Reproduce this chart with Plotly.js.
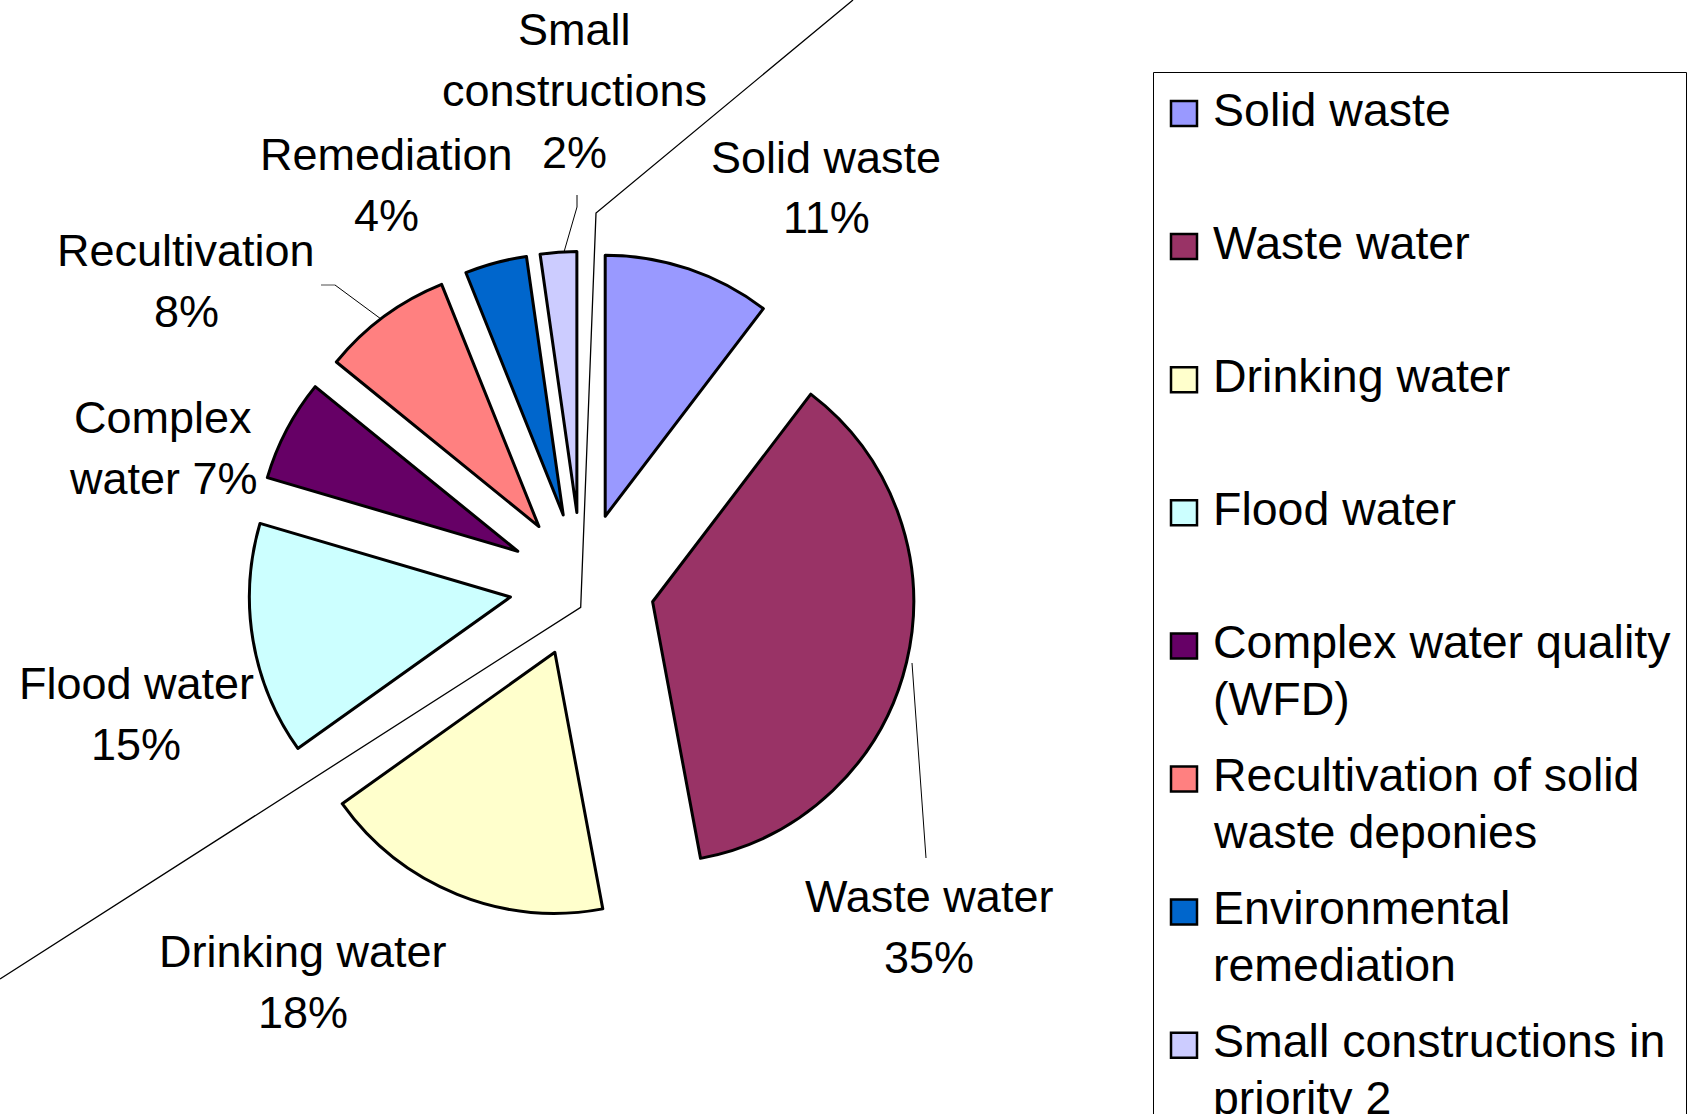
<!DOCTYPE html>
<html>
<head>
<meta charset="utf-8">
<script src="https://cdn.plot.ly/plotly-3.0.1.min.js"></script>
<style>
  html, body { margin: 0; padding: 0; background: #ffffff; }
  #chart { width: 1690px; height: 1114px; }
</style>
</head>
<body>
<div id="chart"></div>
<script>
// ---------------- data ----------------
const categories = [
  "Solid waste",
  "Waste water",
  "Drinking water",
  "Flood water",
  "Complex water quality<br>(WFD)",
  "Recultivation of solid<br>waste deponies",
  "Environmental<br>remediation",
  "Small constructions in<br>priority 2"
];
// slice sizes as drawn in the reference (share of the circle, %)
const sliceValues = [10.36, 36.70, 18.09, 14.40, 6.31, 8.06, 3.83, 2.25];
// percentages printed on the slice labels
const labelPercents = [11, 35, 18, 15, 7, 8, 4, 2];
const sliceNames = [
  "Solid waste",
  "Waste water",
  "Drinking water",
  "Flood water",
  "Complex<br>water",
  "Recultivation",
  "Remediation",
  "Small<br>constructions"
];
const nameValueSep = ["<br>", "<br>", "<br>", "<br>", " ", "<br>", "<br>", "<br>"];
const colors = ["#9999FF", "#993366", "#FFFFCC", "#CCFFFF", "#660066", "#FF8080", "#0066CC", "#CCCCFF"];

// ---------------- layout helpers (pixels -> paper) ----------------
const W = 1690, H = 1114;
const px = x => x / W;
const py = y => 1 - y / H;
const FONT = "Liberation Sans, Arial, sans-serif";

// slice label anchors: centre x, middle of first line (pixels)
const labelPos = [
  [826, 157], [929, 896], [303, 951], [136, 683],
  [163, 417], [186, 250], [386, 154], [574, 30]
];
const labelLineGap = 61;

const annotations = [];
sliceNames.forEach((name, i) => {
  const text = name + nameValueSep[i] + labelPercents[i] + "%";
  text.split("<br>").forEach((line, k) => {
    annotations.push({
      xref: "paper", yref: "paper",
      x: px(labelPos[i][0]), y: py(labelPos[i][1] + k * labelLineGap),
      xanchor: "center", yanchor: "middle",
      text: line, showarrow: false,
      font: { family: FONT, size: 45, color: "#000000" }
    });
  });
});

// custom legend (Excel style)
const legLeft = 1153.5, legTop = 72.5, legRight = 1686.5;
const legFirstBaseline = 126, legStep = 133.1, legLineGap = 57;
const legFont = 46.5;
const shapes = [];
shapes.push({
  type: "rect", xref: "paper", yref: "paper",
  x0: px(legLeft), x1: px(legRight), y0: py(legTop), y1: py(1130),
  line: { color: "#000000", width: 1 }, fillcolor: "rgba(0,0,0,0)", layer: "below"
});
categories.forEach((cat, i) => {
  const base = legFirstBaseline + i * legStep;
  shapes.push({
    type: "rect", xref: "paper", yref: "paper",
    x0: px(1171), x1: px(1197), y0: py(base - 25), y1: py(base + 0),
    fillcolor: colors[i], line: { color: "#000000", width: 2.5 }
  });
  cat.split("<br>").forEach((line, k) => {
    annotations.push({
      xref: "paper", yref: "paper",
      x: px(1211), y: py(base - 16.3 + k * legLineGap),
      xanchor: "left", yanchor: "middle",
      text: line, showarrow: false,
      font: { family: FONT, size: legFont, color: "#000000" }
    });
  });
});

// leader lines and the stray diagonal line
function pathPx(points) {
  return points.map((p, j) => (j ? "L" : "M") + px(p[0]) + "," + py(p[1])).join(" ");
}
shapes.push({ type: "path", xref: "paper", yref: "paper",
  path: pathPx([[853, 0], [596, 213], [580.7, 607.3], [0, 979]]),
  line: { color: "#000000", width: 1.3 } });
shapes.push({ type: "path", xref: "paper", yref: "paper",
  path: pathPx([[577, 195], [577, 207], [564, 252]]),
  line: { color: "#000000", width: 1 } });
shapes.push({ type: "path", xref: "paper", yref: "paper",
  path: pathPx([[321, 285], [335, 285]]),
  line: { color: "#888888", width: 1.5 } });
shapes.push({ type: "path", xref: "paper", yref: "paper",
  path: pathPx([[335, 285], [381, 319]]),
  line: { color: "#000000", width: 1 } });
shapes.push({ type: "path", xref: "paper", yref: "paper",
  path: pathPx([[912, 663], [926, 858]]),
  line: { color: "#000000", width: 1 } });

// pie placement: centre (582,585), radius 261, pull 0.278
const pieCx = 582, pieCy = 585, pieHalf = 333.6;

const trace = {
  type: "pie",
  labels: categories,
  values: sliceValues,
  sort: false,
  direction: "clockwise",
  rotation: 0,
  pull: 0.278,
  marker: { colors: colors, line: { color: "#000000", width: 3 } },
  textinfo: "none",
  hoverinfo: "none",
  showlegend: false,
  domain: {
    x: [px(pieCx - pieHalf), px(pieCx + pieHalf)],
    y: [py(pieCy + pieHalf), py(pieCy - pieHalf)]
  }
};

const layout = {
  width: W, height: H,
  margin: { l: 0, r: 0, t: 0, b: 0 },
  paper_bgcolor: "#ffffff",
  plot_bgcolor: "#ffffff",
  showlegend: false,
  font: { family: FONT, color: "#000000" },
  shapes: shapes,
  annotations: annotations
};

Plotly.newPlot("chart", [trace], layout, { displayModeBar: false, staticPlot: true });
</script>
</body>
</html>
